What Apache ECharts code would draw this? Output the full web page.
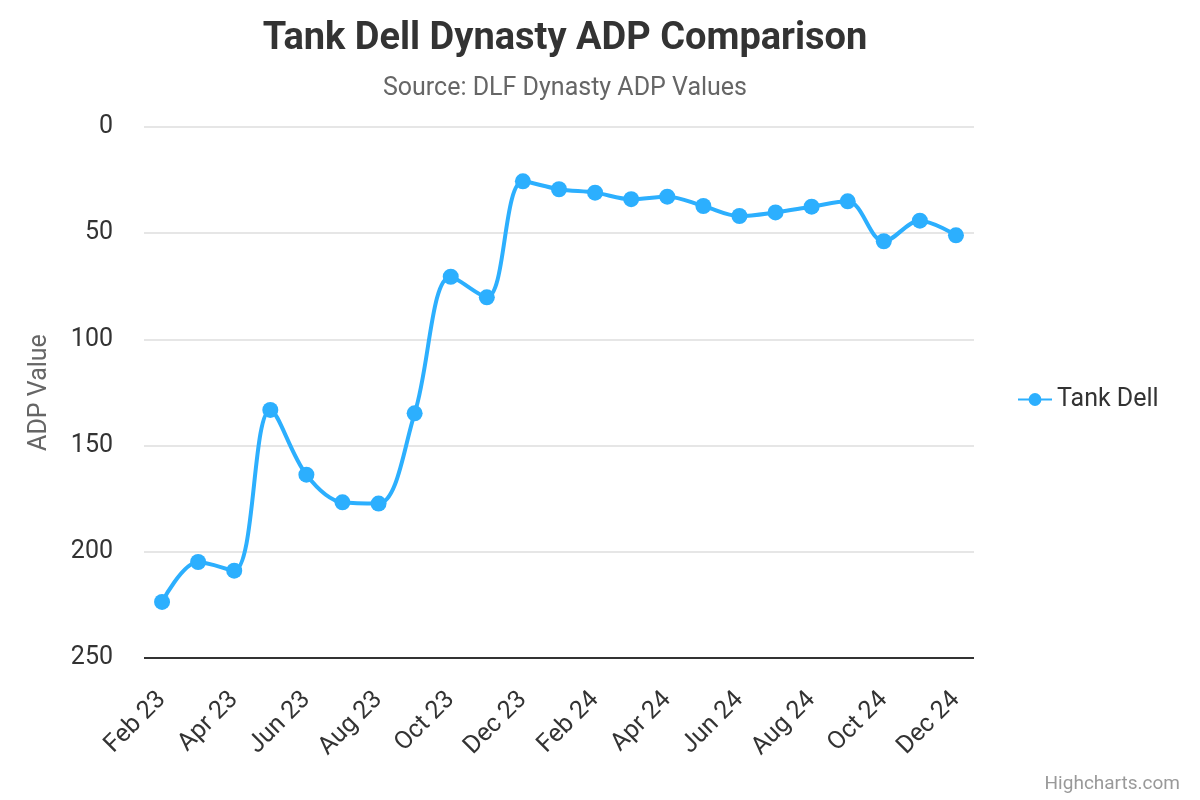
<!DOCTYPE html>
<html>
<head>
<meta charset="utf-8">
<script src="https://cdn.jsdelivr.net/npm/echarts@6/dist/echarts.min.js"></script>
<style>html,body{margin:0;padding:0;background:#fff}#c{width:1200px;height:800px}</style>
</head>
<body>
<div id="c"></div>
<script>
const categories = ["Feb 23","Mar 23","Apr 23","May 23","Jun 23","Jul 23","Aug 23","Sep 23","Oct 23","Nov 23","Dec 23",
  "Jan 24","Feb 24","Mar 24","Apr 24","May 24","Jun 24","Jul 24","Aug 24","Sep 24","Oct 24","Nov 24","Dec 24"];
const tankDell = [223.6,204.8,208.9,133.2,163.7,176.7,177.3,134.8,70.5,80.2,25.6,
  29.3,30.9,34.0,32.8,37.2,41.9,40.2,37.5,35.0,53.8,44.1,51.0];
const yTicks = [0,50,100,150,200,250];

const chart = echarts.init(document.getElementById('c'), null, {renderer:'canvas'});
const font = 'Roboto, "Noto Sans", sans-serif';
chart.setOption({
  animation:false,
  backgroundColor:'#ffffff',
  title:{
    text:'Tank Dell Dynasty ADP Comparison',
    subtext:'Source: DLF Dynasty ADP Values',
    left:560, top:15, textAlign:'center',
    textStyle:{fontFamily:font,fontSize:38,fontWeight:'bold',color:'#333333'},
    subtextStyle:{fontFamily:font,fontSize:25,color:'#666666'},
    itemGap:18
  },
  legend:{
    orient:'vertical', left:1012, top:382,
    itemWidth:34, itemHeight:16, itemGap:10,
    textStyle:{fontFamily:font,fontSize:25,color:'#333333'},
    data:['Tank Dell']
  },
  graphic:[{
    type:'text', right:20, bottom:6,
    style:{text:'Highcharts.com', fontFamily:font, fontSize:19, fill:'#999999'}
  }],
  grid:{left:144, right:226, top:127, bottom:142, containLabel:false},
  xAxis:{
    type:'category', data:categories, boundaryGap:true,
    axisLine:{show:false},
    axisTick:{show:false},
    axisLabel:{interval:1, rotate:45, fontFamily:font, fontSize:25, color:'#333333', margin:38}
  },
  yAxis:{
    type:'value', inverse:true, min:yTicks[0], max:yTicks[yTicks.length-1], interval:50,
    name:'ADP Value', nameLocation:'middle', nameGap:92, nameRotate:90,
    nameTextStyle:{fontFamily:font,fontSize:25,color:'#666666'},
    axisLine:{show:false}, axisTick:{show:false},
    axisLabel:{fontFamily:font,fontSize:25,color:'#333333',margin:31},
    splitLine:{lineStyle:{color:'#e6e6e6',width:2}}
  },
  series:[{
    name:'Tank Dell', type:'line', data:tankDell, smooth:0.35,
    symbol:'circle', symbolSize:16,
    lineStyle:{color:'#2caffe', width:4},
    itemStyle:{color:'#2caffe'},
    markLine:{
      silent:true, symbol:'none', label:{show:false},
      lineStyle:{color:'#333333', width:2, type:'solid'},
      data:[{yAxis:250}]
    }
  }]
});
</script>
</body>
</html>
